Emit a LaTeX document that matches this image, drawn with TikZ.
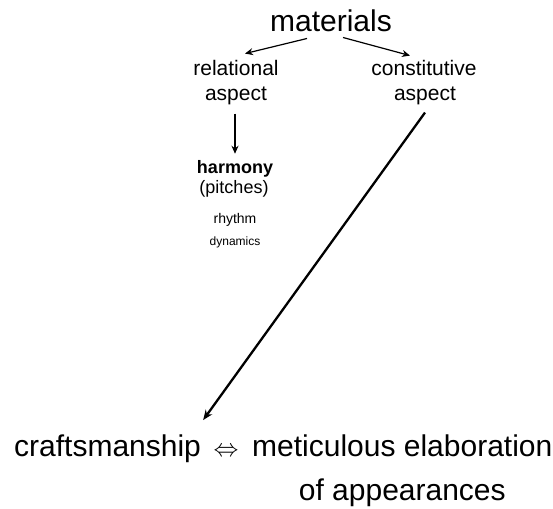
\documentclass[tikz,border=0pt]{standalone}
\usepackage{fontspec}
\setmainfont{Liberation Sans}
\usetikzlibrary{arrows.meta}
\begin{document}
\begin{tikzpicture}[x=1pt,y=-1pt,
  lbl/.style={inner sep=0pt,anchor=base},
  big/.style={lbl,font=\fontsize{30}{30}\selectfont},
  mid/.style={lbl,font=\fontsize{21}{21}\selectfont},
  arr/.style={line width=1.2pt,-{Stealth[length=8pt,width=7pt]}},
  thick arr/.style={line width=2.3pt,-{Stealth[length=10pt,width=8pt]}}]
\useasboundingbox (0,0) rectangle (553,508);
\node[big] (mat) at (331,32) {materials};
\node[mid] (rel1) at (236,76) {relational};
\node[mid] (rel2) at (236,100) {aspect};
\node[mid] (con1) at (424,76) {constitutive};
\node[mid] (con2) at (425,100) {aspect};
\node[lbl,font=\fontsize{18}{18}\selectfont\bfseries] (harm) at (235,173) {harmony};
\node[lbl,font=\fontsize{18}{18}\selectfont] (pit) at (234,193) {(pitches)};
\node[lbl,font=\fontsize{14}{14}\selectfont] (rhy) at (235,223) {rhythm};
\node[lbl,font=\fontsize{12}{12}\selectfont] (dyn) at (235,245) {dynamics};
\node[big,anchor=base west] (craft) at (14,456) {craftsmanship};
\node[lbl,font=\fontsize{24}{24}\selectfont] (iff) at (226,456) {$\Leftrightarrow$};
\node[big,anchor=base west] (met) at (252,456) {meticulous elaboration};
\node[big] (app) at (met.base |- 0,500) {of appearances};
\draw[arr] ([shift={(-24,6)}]mat.south) -- ([shift={(9,-7)}]rel1.north);
\draw[arr] ([shift={(12,5)}]mat.south) -- ([shift={(-14,-5)}]con1.north);
\draw[arr] ([shift={(-1,9)}]rel2.south) -- ([shift={(0,-6)}]harm.north);
\draw[thick arr] ([shift={(0,8)}]con2.south) -- ([shift={(2,-14)}]craft.north east);
\end{tikzpicture}
\end{document}
